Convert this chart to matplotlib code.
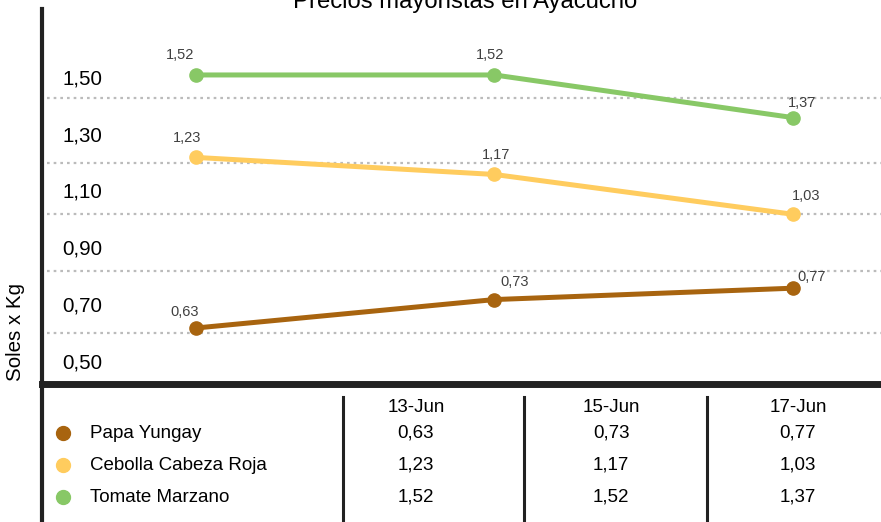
import matplotlib
matplotlib.use('Agg')
import matplotlib.pyplot as plt
from matplotlib import font_manager
from matplotlib.transforms import ScaledTranslation

plt.rcParams['font.family'] = ['Liberation Sans', 'DejaVu Sans']

# datos
fechas = ['13-Jun', '15-Jun', '17-Jun']
productos = ['Papa Yungay', 'Cebolla Cabeza Roja', 'Tomate Marzano']
papa = [0.63, 0.73, 0.77]
cebolla = [1.23, 1.17, 1.03]
tomate = [1.52, 1.52, 1.37]
series = [papa, cebolla, tomate]
colores = ['#A8640F', '#FFCC5E', '#88C866']
yticks = [0.50, 0.70, 0.90, 1.10, 1.30, 1.50]
grid_niveles = [1.440, 1.2115, 1.031, 0.829, 0.611]

# desplazamiento de las etiquetas (pixeles)
offsets = [[(-11, 16), (20, 18), (19, 11)],
           [(-9, 19), (2, 19), (13, 18)],
           [(-16, 20), (-4, 20), (9, 15)]]

def fmt(v):
    return f'{v:.2f}'.replace('.', ',')

nombres = {f.name for f in font_manager.fontManager.ttflist}
if 'Liberation Sans Narrow' in nombres:
    fam_lbl, size_lbl = ['Liberation Sans Narrow', 'DejaVu Sans'], 12.5
else:
    fam_lbl, size_lbl = ['Liberation Sans', 'DejaVu Sans'], 10.5

W, H = 881, 522
fig = plt.figure(figsize=(W / 100, H / 100), dpi=100)

# grafico principal
ax = fig.add_axes([42 / W, (H - 384) / H, (W - 42) / W, (384 - 9) / H])
x = list(range(len(fechas)))
for lvl in grid_niveles:
    ax.axhline(lvl, xmin=5 / (W - 42), color='#BBBBBB', lw=1.6,
               ls=(0, (1.2, 1.8)), zorder=1)
for s, c, offs in zip(series, colores, offsets):
    ax.plot(x, s, color=c, lw=3.6, marker='o', ms=9.5, zorder=3,
            solid_capstyle='round')
    for xi, v, (dx, dy) in zip(x, s, offs):
        ax.annotate(fmt(v), (xi, v), xytext=(dx, dy), textcoords='offset pixels',
                    ha='center', va='center', color='#404040',
                    fontsize=size_lbl, family=fam_lbl)

ax.set_xlim(-0.516, 2.295)
ax.set_ylim(0.433, 1.752)
ax.set_xticks([])
ax.set_yticks(yticks)
ax.set_yticklabels([fmt(t) for t in yticks], fontsize=14.8)
ax.tick_params(axis='y', length=0, pad=-14.4)
for lab in ax.get_yticklabels():
    lab.set_horizontalalignment('left')
    lab.set_transform(lab.get_transform() + ScaledTranslation(0, 4 / 100, fig.dpi_scale_trans))
for side in ['top', 'right']:
    ax.spines[side].set_visible(False)
ax.spines['left'].set_linewidth(3)
ax.spines['left'].set_color('#222222')
ax.spines['bottom'].set_linewidth(5)
ax.spines['bottom'].set_color('#222222')

fig.text(465 / W, 1 - 8 / H, 'Precios mayoristas en Ayacucho', fontsize=17.2,
         ha='center', va='baseline')
fig.text(16 / W, 1 - 332 / H, 'Soles x Kg', fontsize=14.8, rotation=90,
         ha='center', va='center')

# tabla de datos
tb = fig.add_axes([0, 0, 1, (H - 384) / H])
tb.set_xlim(0, W)
tb.set_ylim(H, 384)
tb.axis('off')
tb.plot([42, 42], [384, H], color='#222222', lw=3)
for xs in [343, 524, 707]:
    tb.plot([xs, xs], [397, H], color='#222222', lw=2.2)
col_x = [416, 611, 798]
fila_y = [433, 465, 497]
for cx, f in zip(col_x, fechas):
    tb.text(cx, 408, f, ha='center', va='center', fontsize=13.5)
for ry, nombre, s, c in zip(fila_y, productos, series, colores):
    tb.plot(63, ry, 'o', color=c, ms=10)
    tb.text(90, ry, nombre, ha='left', va='center', fontsize=13.5)
    for cx, v in zip(col_x, s):
        tb.text(cx, ry, fmt(v), ha='center', va='center', fontsize=13.5)

fig.savefig('out.png', dpi=100)
